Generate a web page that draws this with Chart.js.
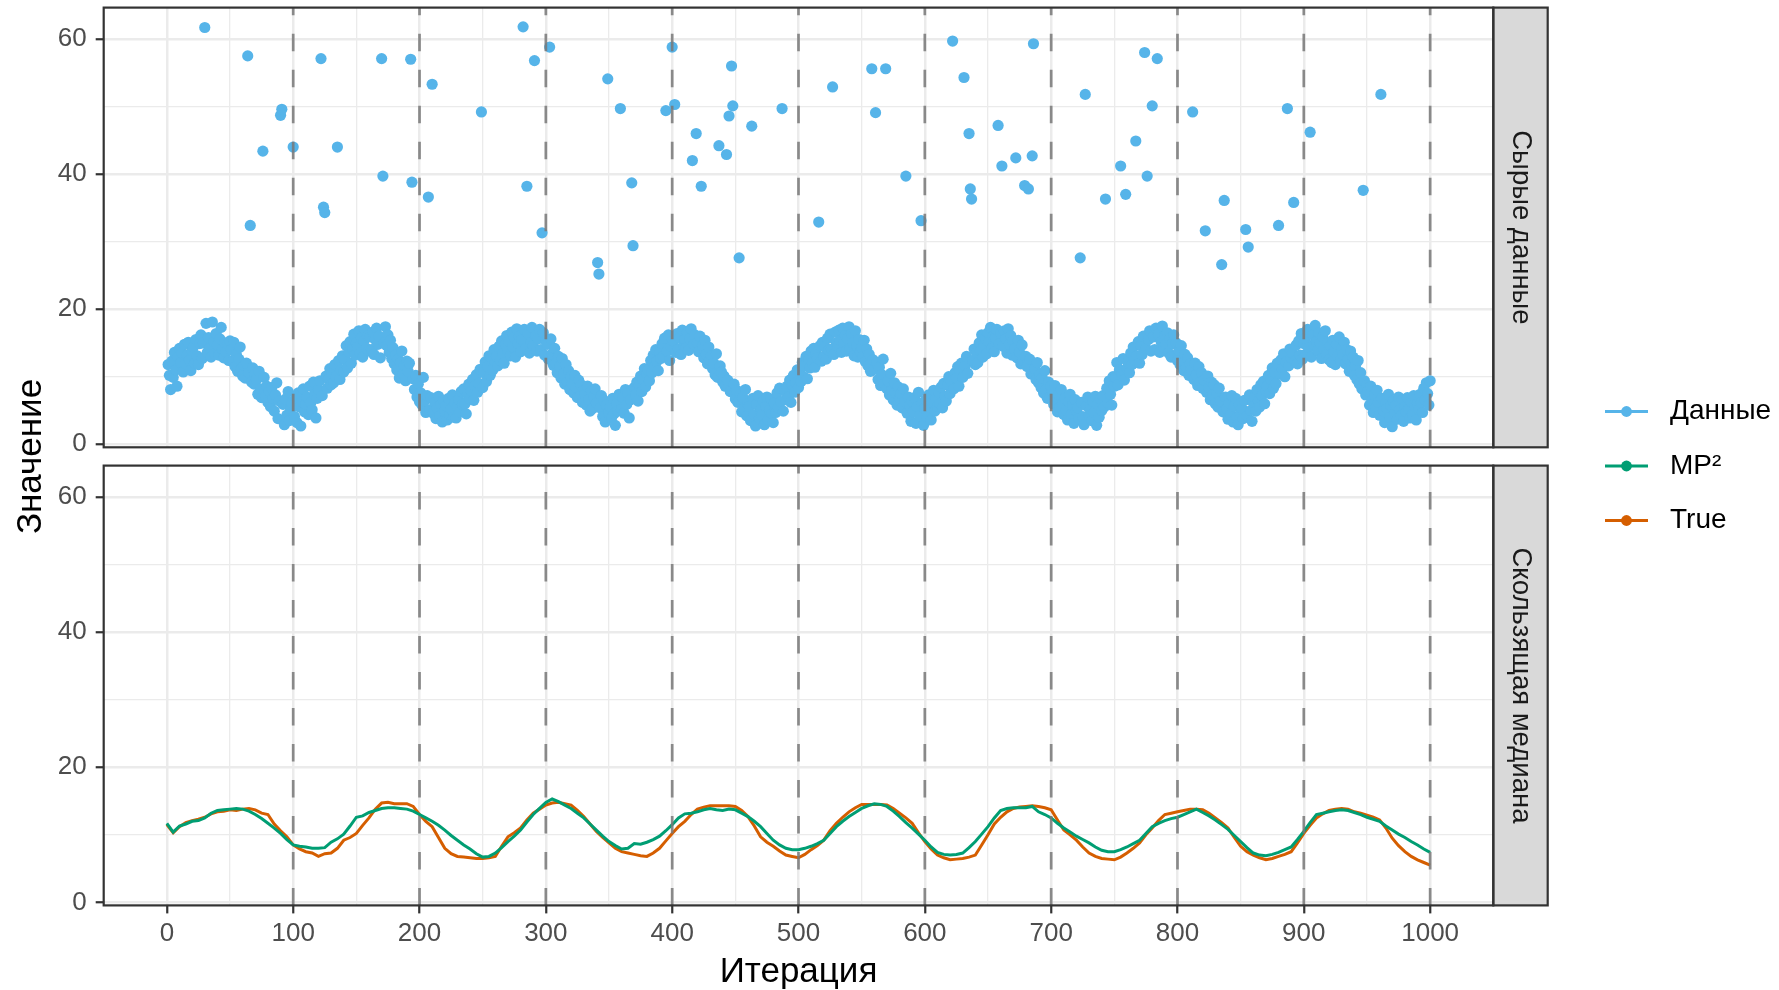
<!DOCTYPE html>
<html lang="ru">
<head>
<meta charset="utf-8">
<title>Сырые данные и скользящая медиана</title>
<script src="https://cdn.jsdelivr.net/npm/chart.js@4.4.1/dist/chart.umd.min.js"></script>
<style>
  html, body { margin: 0; padding: 0; background: #ffffff; }
  #wrap { position: relative; width: 1779px; height: 990px; }
  #wrap canvas { position: absolute; left: 0; top: 0; }
</style>
</head>
<body>
<div id="wrap">
  <canvas id="rawChart" width="1779" height="990"></canvas>
  <canvas id="medianChart" width="1779" height="990"></canvas>
</div>
<script>
// ---- axis breaks and labels ----
const xMajor = [0, 100, 200, 300, 400, 500, 600, 700, 800, 900, 1000];
const xMinor = [50, 150, 250, 350, 450, 550, 650, 750, 850, 950];
const yMajor = [0, 20, 40, 60];
const yMinor = [10, 30, 50];
const changePoints = [100, 200, 300, 400, 500, 600, 700, 800, 900, 1000];
const seriesNames = ['Данные', 'MP²', 'True'];
const seriesColors = ['#56B4E9', '#009E73', '#D55E00'];
const stripLabels = ['Сырые данные', 'Скользящая медиана'];
const xTitle = 'Итерация';
const yTitle = 'Значение';

// ---- raw observations, one value per iteration (1..1000) ----
const raw001_100 = [
  11.8,10.2,8.1,12.3,9.9,13.6,11.0,8.6,12.9,14.2, 12.1,13.5,10.7,14.8,11.9,13.2,15.1,12.4,10.9,13.8,
  14.4,12.0,15.5,13.1,11.8,14.9,16.2,12.7,15.0,61.7, 17.9,13.6,15.8,14.2,12.9,18.1,15.2,13.4,16.4,14.7,
  13.2,15.6,17.3,14.1,12.8,15.0,13.7,14.9,12.4,15.3, 14.0,12.2,15.1,11.5,13.3,10.8,12.6,14.4,11.2,10.1,
  11.7,9.8,12.0,57.5,10.6,32.4,9.2,11.3,8.9,10.4, 9.6,7.4,10.8,8.2,6.9,43.4,9.9,7.1,8.6,6.2,
  7.9,5.6,8.4,6.8,4.9,7.3,9.1,3.8,6.4,48.7, 49.6,5.9,2.9,6.7,4.3,7.8,3.5,5.2,6.1,44.0
];
const raw101_200 = [
  4.1,6.9,3.2,7.6,5.5,2.7,6.3,8.2,4.8,5.9, 7.0,4.4,8.6,6.2,5.1,9.2,7.4,3.9,6.8,8.1,
  9.4,57.1,7.2,35.1,34.3,10.1,8.3,9.7,11.2,8.8, 10.5,9.1,11.8,10.0,44.0,12.4,9.6,11.0,13.1,10.7,
  12.5,14.6,11.3,13.7,15.2,12.0,14.1,16.3,13.2,15.0, 14.4,16.8,13.5,15.7,12.9,15.3,17.0,14.2,16.1,13.8,
  15.9,14.0,16.6,13.3,15.5,17.2,14.8,16.0,12.8,57.1, 39.7,15.0,17.4,14.6,16.2,13.6,15.4,12.7,14.3,11.9,
  13.2,11.0,12.6,9.8,12.1,13.8,10.4,11.7,9.4,12.3, 10.8,12.0,57.0,38.8,9.7,8.1,10.2,7.0,8.9,6.3
];
const raw201_300 = [
  7.6,5.8,9.9,6.4,4.7,7.2,36.6,5.1,6.9,53.3, 4.6,6.2,3.8,5.4,7.1,4.2,5.9,3.3,6.5,4.9,
  5.7,3.6,6.8,4.4,5.2,7.3,4.0,6.1,3.9,5.5, 6.6,4.8,7.8,5.9,8.2,6.0,4.5,7.4,8.9,6.7,
  7.9,9.6,6.5,8.7,10.3,7.7,9.0,11.1,49.2,8.4, 10.6,12.2,9.3,11.5,13.1,10.2,12.8,11.0,14.0,12.1,
  13.0,11.6,14.5,12.4,15.3,13.4,12.0,14.8,16.1,13.9, 15.2,13.1,16.6,14.4,15.8,12.9,17.1,14.9,16.0,13.7,
  15.5,61.8,17.0,14.2,38.2,16.4,13.5,15.1,17.3,14.6, 56.8,16.1,13.8,15.6,17.0,14.0,31.3,16.5,13.2,15.3
];
const raw301_400 = [
  14.8,12.6,58.8,15.6,13.4,11.7,14.2,12.0,10.6,13.0, 11.5,9.8,12.7,10.4,8.9,11.8,9.2,10.9,8.1,10.0,
  9.0,7.6,10.2,8.4,6.9,9.5,7.1,8.8,6.2,8.0, 7.4,5.8,8.6,6.6,4.9,7.9,5.3,7.0,8.2,6.1,
  26.9,25.2,5.4,7.2,4.1,6.5,3.3,5.8,54.1,4.6, 5.5,3.9,6.8,4.5,2.8,6.0,4.9,7.4,49.7,5.2,
  6.9,4.6,8.1,5.9,7.5,3.9,6.6,38.7,29.4,8.4, 7.3,9.2,6.4,8.7,10.1,7.8,9.6,11.2,8.5,10.4,
  11.0,9.4,12.4,10.6,13.2,11.5,14.0,12.3,10.9,13.6, 12.7,14.9,13.0,15.7,49.4,13.8,16.2,12.4,14.5,58.8
];
const raw401_500 = [
  15.3,50.3,13.6,16.4,14.1,15.8,13.3,16.9,14.7,15.5, 14.3,16.5,13.9,15.6,17.1,42.0,14.8,16.2,46.0,15.0,
  13.7,16.0,38.2,14.6,12.8,15.4,13.3,11.9,14.4,12.5, 13.1,11.2,12.0,10.3,13.4,9.9,44.2,11.6,10.7,9.2,
  10.1,8.6,42.9,9.5,48.6,7.8,56.0,50.1,8.9,6.7, 8.0,6.2,27.6,7.4,4.8,6.9,5.3,8.1,4.2,6.0,
  5.6,3.5,47.1,6.8,4.4,2.7,5.9,7.2,3.9,5.1, 4.3,6.4,2.9,5.6,7.0,3.6,5.0,6.7,4.5,3.2,
  6.1,4.7,7.6,5.4,8.3,6.3,49.7,4.9,7.9,6.6, 8.6,7.0,9.5,6.2,8.8,10.2,7.7,9.1,11.0,8.4
];
const raw501_600 = [
  10.7,9.3,12.1,10.0,11.6,13.0,9.7,12.5,11.3,13.8, 12.0,14.2,11.4,13.5,12.8,32.9,14.6,12.3,15.1,13.0,
  14.4,12.6,15.7,13.9,16.3,14.1,52.9,13.3,16.6,15.0, 14.5,16.9,15.4,13.6,17.2,14.9,16.1,13.8,15.6,17.4,
  14.2,16.4,15.0,13.1,16.8,14.6,12.9,15.5,13.7,14.3, 13.0,15.4,12.2,14.1,11.6,13.3,10.8,55.6,12.5,11.1,
  49.1,12.0,9.6,11.4,8.7,10.3,12.6,9.0,55.6,8.2, 9.4,7.3,10.5,8.0,6.6,9.1,7.6,5.8,8.5,6.9,
  7.5,5.4,8.2,6.3,39.7,4.6,7.0,5.7,3.4,6.4, 4.8,6.9,3.1,5.5,7.7,4.2,33.1,6.1,2.8,5.3
];
const raw601_700 = [
  6.6,4.0,7.3,5.1,3.6,6.2,8.0,4.9,6.8,5.6, 7.7,6.0,8.5,5.4,9.0,7.1,6.4,8.8,10.0,7.5,
  9.3,59.7,8.2,10.6,9.8,11.5,8.6,10.9,12.0,9.9, 54.3,11.6,13.0,10.5,46.0,37.8,36.3,12.4,14.1,11.8,
  13.5,12.1,15.0,13.8,16.2,12.9,14.6,15.7,13.4,16.5, 15.1,17.3,14.2,16.0,13.7,15.8,17.0,47.2,14.9,16.4,
  41.2,14.5,16.8,15.6,13.5,17.1,14.8,16.1,13.2,15.3, 14.1,42.4,12.8,15.4,13.6,11.9,14.7,12.4,38.3,13.0,
  11.5,37.8,12.6,10.4,42.7,59.3,11.2,9.6,12.1,9.1, 10.3,8.4,9.8,7.6,10.9,8.1,6.8,9.2,7.0,8.6
];
const raw701_800 = [
  7.8,5.9,8.7,6.4,4.8,7.3,5.5,8.1,6.0,4.4, 6.8,5.0,3.6,6.3,7.4,4.5,5.8,3.1,6.6,4.9,
  5.4,3.8,27.6,6.2,4.1,2.9,51.8,5.7,7.0,4.3, 5.2,3.5,6.4,4.7,7.1,2.8,5.9,4.0,6.7,5.0,
  7.2,5.5,36.3,8.3,6.1,9.4,7.4,5.8,10.0,8.6, 9.9,12.1,8.8,11.0,41.2,10.4,12.7,9.5,37.0,11.3,
  12.2,10.6,13.5,11.8,14.4,12.5,44.9,13.1,15.2,12.0, 14.6,13.3,16.0,58.0,14.2,39.7,15.5,16.8,13.8,50.1,
  15.9,14.0,17.2,57.1,16.3,13.6,15.2,17.5,14.4,16.0, 14.8,16.5,13.5,15.7,12.9,14.9,16.2,13.1,15.0,12.4
];
const raw801_900 = [
  13.9,11.8,14.6,12.5,10.9,13.3,11.4,12.8,10.2,11.9, 11.1,49.2,9.6,12.0,10.3,8.7,11.5,9.2,10.6,8.3,
  9.5,31.6,7.7,10.1,8.4,6.6,9.2,7.3,8.8,6.0, 7.6,5.5,8.3,6.4,26.6,4.8,36.1,7.0,5.3,3.7,
  6.1,4.4,7.2,3.3,5.6,6.8,4.0,2.9,5.9,4.6, 5.3,3.8,6.5,31.8,4.2,29.2,7.3,5.0,3.4,6.2,
  7.0,4.9,8.1,6.4,5.5,8.8,7.2,9.3,6.0,7.9, 8.6,10.2,7.5,9.6,11.3,8.3,10.7,9.0,12.0,32.4,
  10.4,12.5,11.1,13.4,10.0,12.2,49.7,11.6,14.1,12.8, 13.5,35.8,12.3,14.7,11.9,15.3,13.2,16.4,12.6,14.9
];
const raw901_1000 = [
  15.6,13.4,17.0,14.3,46.2,12.9,16.2,14.8,17.6,15.2, 13.8,16.5,14.9,12.7,15.9,14.1,16.8,13.3,15.0,12.5,
  14.6,12.1,15.4,13.7,11.8,14.8,13.0,15.9,12.4,14.2, 13.3,15.1,11.9,14.0,12.6,10.8,13.8,11.4,12.9,10.2,
  11.7,9.6,12.4,8.9,10.6,8.2,37.6,9.4,7.3,8.7, 7.9,5.8,8.6,6.5,4.7,7.3,5.4,8.0,6.2,4.3,
  51.8,6.8,4.9,3.2,6.1,5.3,7.4,4.0,5.7,2.6, 6.4,4.5,5.8,3.7,7.0,5.1,4.2,6.6,3.4,5.5,
  4.8,6.9,5.2,3.9,6.3,4.4,7.2,5.6,3.6,6.0, 5.1,7.4,6.2,4.7,8.3,6.6,9.1,7.5,5.8,9.4
];

// ---- running medians, one value every 5 iterations (0..1000) ----
const medianStep = 5;
const mp2Median = [
  11.7,10.4,11.3,11.6,12.0,12.1,12.5,13.2,13.6,13.7, 13.8,13.9,13.8,13.5,13.0,12.4,11.7,11.0,10.2,9.3,
  8.5,8.3,8.2,8.0,8.0,8.1,8.9,9.4,10.1,11.3, 12.6,12.8,13.3,13.6,13.9,14.0,14.0,13.9,13.8,13.5,
  13.0,12.5,12.0,11.4,10.7,9.9,9.2,8.5,7.9,7.2, 6.7,6.8,7.3,8.1,9.0,9.8,10.7,11.9,13.0,13.9,
  14.8,15.3,14.9,14.4,13.9,13.2,12.5,11.6,10.7,9.8, 9.0,8.4,7.9,8.0,8.7,8.6,8.9,9.3,9.8,10.6,
  11.5,12.5,13.1,13.2,13.4,13.7,13.9,13.7,13.6,13.8, 13.7,13.2,12.7,12.0,11.2,10.2,9.2,8.5,8.0,7.8,
  7.8,8.0,8.3,8.7,9.2,10.2,11.2,12.0,12.7,13.3, 13.9,14.3,14.6,14.5,14.2,13.5,12.7,11.8,11.0,10.1,
  9.2,8.2,7.4,7.1,7.0,7.1,7.3,8.1,9.0,10.1, 11.2,12.5,13.6,13.9,14.0,14.0,14.0,14.2,13.4,13.0,
  12.5,11.7,11.0,10.4,9.8,9.3,8.8,8.2,7.7,7.5, 7.5,7.8,8.2,8.7,9.2,10.2,11.2,11.7,12.1,12.4,
  12.6,13.0,13.4,13.8,13.3,12.8,12.2,11.5,10.8,9.9, 9.0,8.1,7.3,7.0,6.9,7.1,7.4,7.8,8.2,9.3,
  10.5,11.8,13.0,13.2,13.4,13.6,13.7,13.6,13.3,13.0, 12.6,12.3,12.0,11.3,10.7,10.1,9.6,9.0,8.5,7.9,
  7.4
];
const trueMedian = [
  11.5,10.3,11.2,11.8,12.1,12.3,12.6,13.1,13.4,13.5, 13.7,13.6,13.8,13.9,13.7,13.2,13.0,11.6,10.6,9.7,
  8.5,7.9,7.5,7.3,6.8,7.2,7.3,8.0,9.2,9.6, 10.2,11.4,12.5,13.8,14.7,14.8,14.6,14.6,14.6,14.2,
  13.0,12.0,11.2,9.6,8.0,7.2,6.8,6.7,6.6,6.5, 6.5,6.6,6.8,8.3,9.7,10.3,11.0,12.2,13.2,13.8,
  14.4,14.7,14.8,14.6,14.4,13.6,12.7,11.6,10.5,9.6, 8.8,8.0,7.5,7.3,7.1,6.9,6.8,7.3,8.0,9.1,
  10.2,11.2,12.0,13.0,13.8,14.1,14.3,14.3,14.3,14.3, 14.2,13.6,12.7,11.3,9.7,8.9,8.3,7.6,7.0,6.8,
  6.6,7.1,7.8,8.4,9.2,10.6,11.7,12.6,13.4,14.0, 14.5,14.5,14.5,14.5,14.4,13.9,13.2,12.5,11.7,10.3,
  9.0,7.9,7.0,6.6,6.3,6.4,6.5,6.7,7.0,8.5, 10.0,11.6,12.6,13.4,13.9,14.1,14.2,14.3,14.2,14.0,
  13.7,12.2,10.7,10.0,9.2,8.2,7.3,6.8,6.5,6.4, 6.3,6.7,7.3,8.0,8.8,10.0,11.0,12.1,13.0,13.2,
  13.4,13.6,13.8,13.8,13.7,13.2,12.5,11.8,11.0,9.6, 8.3,7.5,7.0,6.6,6.3,6.5,6.8,7.1,7.5,8.8,
  10.2,11.4,12.5,13.1,13.6,13.8,13.9,13.8,13.4,13.2, 12.9,12.6,12.2,11.0,9.5,8.4,7.5,6.8,6.3,5.9,
  5.5
];

// ---- page geometry ----
const CANVAS_W = 1779, CANVAS_H = 990;
const PANEL_LEFT = 103.7, PANEL_RIGHT = 1493.3, STRIP_W = 54.4;
const PANELS = [{ top: 7.6, bottom: 447.3 }, { top: 465.6, bottom: 905.4 }];
const X_RANGE = [-50, 1050];
const Y_RANGE = [-0.45, 64.65];
const FONT = '"Liberation Sans", Arial, Helvetica, sans-serif';

const rawValues = [].concat(raw001_100, raw101_200, raw201_300, raw301_400, raw401_500,
                            raw501_600, raw601_700, raw701_800, raw801_900, raw901_1000);
const rawPoints = rawValues.map((v, i) => ({ x: i + 1, y: v }));
const toMedianPoints = arr => arr.map((v, i) => ({ x: i * medianStep, y: v }));

const isMajor = (list, c) => c.tick && list.includes(c.tick.value);

function resetPadding(s) {
  s.paddingLeft = 0; s.paddingRight = 0; s.paddingTop = 0; s.paddingBottom = 0;
}

function xScale(withLabels) {
  return {
    type: 'linear',
    min: X_RANGE[0], max: X_RANGE[1],
    afterBuildTicks: s => { s.ticks = xMajor.concat(xMinor).sort((a, b) => a - b).map(v => ({ value: v })); },
    afterFit: s => { s.height = withLabels ? CANVAS_H - PANELS[1].bottom : 0; resetPadding(s); },
    ticks: {
      display: withLabels, autoSkip: false, maxRotation: 0, minRotation: 0, padding: 5,
      color: '#4D4D4D', font: { family: FONT, size: 26 },
      callback: v => xMajor.includes(v) ? String(v) : ''
    },
    grid: {
      color: '#EBEBEB',
      lineWidth: c => isMajor(xMajor, c) ? 2.5 : 1.3,
      drawTicks: withLabels, tickLength: 8, tickWidth: 2.2,
      tickColor: c => isMajor(xMajor, c) ? '#333333' : 'rgba(0,0,0,0)'
    },
    border: { display: false },
    title: withLabels
      ? { display: true, text: xTitle, color: '#000000', font: { family: FONT, size: 35, lineHeight: 1.0 }, padding: { top: 0, bottom: 0 } }
      : { display: false }
  };
}

function yScale() {
  return {
    type: 'linear',
    min: Y_RANGE[0], max: Y_RANGE[1],
    afterBuildTicks: s => { s.ticks = yMajor.concat(yMinor).sort((a, b) => a - b).map(v => ({ value: v })); },
    afterFit: s => { s.width = PANEL_LEFT; resetPadding(s); },
    ticks: {
      autoSkip: false, padding: 9, color: '#4D4D4D', font: { family: FONT, size: 26 },
      callback: v => yMajor.includes(v) ? String(v) : ''
    },
    grid: {
      color: '#EBEBEB',
      lineWidth: c => isMajor(yMajor, c) ? 2.5 : 1.3,
      drawTicks: true, tickLength: 8, tickWidth: 2.2,
      tickColor: c => isMajor(yMajor, c) ? '#333333' : 'rgba(0,0,0,0)'
    },
    border: { display: false }
  };
}

// dashed change-point lines, panel frame and the grey facet strip
function panelDecor(label) {
  return {
    id: 'panelDecor',
    afterDatasetsDraw(chart) {
      const { ctx, chartArea: a, scales: { x } } = chart;
      ctx.save();
      ctx.strokeStyle = 'rgba(120,120,120,0.85)';
      ctx.lineWidth = 2.7;
      ctx.setLineDash([17.5, 18.5]);
      changePoints.forEach(v => {
        const px = x.getPixelForValue(v);
        ctx.beginPath();
        ctx.moveTo(px, a.bottom);
        ctx.lineTo(px, a.top);
        ctx.stroke();
      });
      ctx.restore();
    },
    afterDraw(chart) {
      const { ctx, chartArea: a } = chart;
      const h = a.bottom - a.top;
      ctx.save();
      ctx.fillStyle = '#D9D9D9';
      ctx.fillRect(a.right, a.top, STRIP_W, h);
      ctx.strokeStyle = '#333333';
      ctx.lineWidth = 2.2;
      ctx.strokeRect(a.right, a.top, STRIP_W, h);
      ctx.strokeRect(a.left, a.top, a.right - a.left, h);
      ctx.translate(a.right + STRIP_W / 2, a.top + h / 2);
      ctx.rotate(Math.PI / 2);
      ctx.fillStyle = '#1A1A1A';
      ctx.font = '27.5px ' + FONT;
      ctx.textAlign = 'center';
      ctx.textBaseline = 'middle';
      ctx.fillText(label, 0, 0);
      ctx.restore();
    }
  };
}

// shared y title and the legend on the right
const sharedDecor = {
  id: 'sharedDecor',
  afterDraw(chart) {
    const { ctx } = chart;
    ctx.save();
    ctx.translate(31, (PANELS[0].top + PANELS[1].bottom) / 2);
    ctx.rotate(-Math.PI / 2);
    ctx.fillStyle = '#000000';
    ctx.font = '35px ' + FONT;
    ctx.textAlign = 'center';
    ctx.textBaseline = 'middle';
    ctx.fillText(yTitle, 0, 0);
    ctx.restore();

    ctx.save();
    seriesNames.forEach((name, i) => {
      const y = 411.5 + i * 54.5;
      ctx.strokeStyle = seriesColors[i];
      ctx.lineWidth = 2.9;
      ctx.beginPath();
      ctx.moveTo(1605, y);
      ctx.lineTo(1648, y);
      ctx.stroke();
      ctx.fillStyle = seriesColors[i];
      ctx.beginPath();
      ctx.arc(1626.5, y, 5.4, 0, Math.PI * 2);
      ctx.fill();
      ctx.fillStyle = '#000000';
      ctx.font = '28px ' + FONT;
      ctx.textAlign = 'left';
      ctx.textBaseline = 'middle';
      ctx.fillText(name, 1670, y);
    });
    ctx.restore();
  }
};

const baseOptions = panel => ({
  responsive: false,
  animation: false,
  devicePixelRatio: 1,
  events: [],
  layout: {
    padding: {
      left: 0,
      top: PANELS[panel].top,
      right: CANVAS_W - PANEL_RIGHT,
      bottom: panel === 0 ? CANVAS_H - PANELS[0].bottom : 0
    }
  },
  plugins: { legend: { display: false }, tooltip: { enabled: false } },
  scales: { x: xScale(panel === 1), y: yScale() }
});

new Chart(document.getElementById('rawChart'), {
  type: 'scatter',
  data: {
    datasets: [{
      label: seriesNames[0],
      data: rawPoints,
      backgroundColor: seriesColors[0],
      borderWidth: 0,
      pointRadius: 5.6,
      pointHoverRadius: 5.6
    }]
  },
  options: baseOptions(0),
  plugins: [panelDecor(stripLabels[0])]
});

new Chart(document.getElementById('medianChart'), {
  type: 'scatter',
  data: {
    datasets: [
      { label: seriesNames[1], data: toMedianPoints(mp2Median), showLine: true, borderColor: seriesColors[1],
        borderWidth: 3, pointRadius: 0, fill: false, tension: 0 },
      { label: seriesNames[2], data: toMedianPoints(trueMedian), showLine: true, borderColor: seriesColors[2],
        borderWidth: 3, pointRadius: 0, fill: false, tension: 0 }
    ]
  },
  options: baseOptions(1),
  plugins: [panelDecor(stripLabels[1]), sharedDecor]
});
</script>
</body>
</html>
